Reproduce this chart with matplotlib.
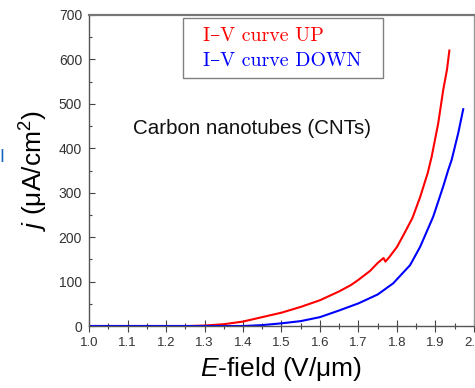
import matplotlib
matplotlib.use("Agg")
import matplotlib.pyplot as plt
from matplotlib.patches import Rectangle
from matplotlib.ticker import MultipleLocator

# Data
E_up = [1.00, 1.26, 1.30, 1.35, 1.40, 1.45, 1.50, 1.55, 1.60, 1.65, 1.68, 1.70,
        1.73, 1.75, 1.765, 1.770, 1.78, 1.80, 1.82, 1.84, 1.86, 1.88, 1.89,
        1.907, 1.920, 1.930, 1.936]
j_up = [0, 0, 1, 4, 10, 20, 30, 43, 58, 78, 92, 104,
        124, 142, 153, 145, 155, 178, 210, 243, 290, 345, 381,
        456, 531, 578, 620]

E_down = [1.00, 1.40, 1.45, 1.50, 1.55, 1.60, 1.65, 1.70, 1.75, 1.79, 1.834,
          1.86, 1.894, 1.92, 1.933, 1.942, 1.959, 1.972]
j_down = [0, 0, 2, 6, 11, 20, 35, 51, 71, 96, 137,
          178, 246, 314, 351, 374, 434, 488]

legend_labels = ["I–V curve UP", "I–V curve DOWN"]
annotation = "Carbon nanotubes (CNTs)"
x_ticks = [1.0, 1.1, 1.2, 1.3, 1.4, 1.5, 1.6, 1.7, 1.8, 1.9, 2.0]
y_ticks = [0, 100, 200, 300, 400, 500, 600, 700]

plt.rcParams['font.family'] = ['Liberation Sans', 'DejaVu Sans']
plt.rcParams['mathtext.fontset'] = 'custom'
plt.rcParams['mathtext.rm'] = 'Liberation Sans'
plt.rcParams['mathtext.it'] = 'Liberation Sans:italic'

fig = plt.figure(figsize=(4.75, 3.88), dpi=100)
ax = fig.add_axes([89/475, 1-326/388, 385/475, 311/388])

ax.plot(E_up, j_up, color='#ff0000', lw=1.5)
ax.plot(E_down, j_down, color='#0000ff', lw=1.5)

ax.set_xlim(1.0, 2.0)
ax.set_ylim(0, 700)
ax.set_xticks(x_ticks)
ax.set_xticklabels([f"{v:.1f}" for v in x_ticks])
ax.set_yticks(y_ticks)
ax.xaxis.set_minor_locator(MultipleLocator(0.05))
ax.yaxis.set_minor_locator(MultipleLocator(50))

ax.tick_params(axis='x', which='major', direction='inout', length=8, width=0.8,
               color='#444444', labelsize=9.5, labelcolor='#333333', pad=4)
ax.tick_params(axis='x', which='minor', direction='inout', length=4.5, width=0.8,
               color='#444444')
ax.tick_params(axis='y', which='major', direction='in', length=4.5, width=0.8,
               color='#444444', labelsize=10, labelcolor='#333333', pad=5)
ax.tick_params(axis='y', which='minor', direction='in', length=2.5, width=0.8,
               color='#444444')

for s in ['left', 'bottom']:
    ax.spines[s].set_color('#555555')
    ax.spines[s].set_linewidth(1.0)
ax.spines['top'].set_color('#777777')
ax.spines['top'].set_linewidth(1.6)
ax.spines['right'].set_color('#999999')
ax.spines['right'].set_linewidth(1.0)

ax.set_xlabel(r"$E$-field (V/μm)", fontsize=19, labelpad=4)
ax.set_ylabel(r"$j$ (μA/cm$^2$)", fontsize=19, labelpad=6)

# Legend-like box
ax.add_patch(Rectangle((0.2434, 0.796), 0.519, 0.193, transform=ax.transAxes,
                       facecolor='white', edgecolor='#808080', lw=1.0, zorder=3))
serif = ['cmr10', 'DejaVu Serif']
ax.text(0.297, 0.933, legend_labels[0], transform=ax.transAxes, color='#ff0000',
        fontsize=14.4, va='center', ha='left', family=serif, zorder=4)
ax.text(0.297, 0.853, legend_labels[1], transform=ax.transAxes, color='#0000ff',
        fontsize=14.4, va='center', ha='left', family=serif, zorder=4)

ax.text(133, 388 - 128, annotation, transform=None, fontsize=14.8, color='#111111',
        va='center', ha='left')

fig.text(-1/475, 1-157/388, 'I', color='#1565C0', fontsize=13, ha='left', va='center')

fig.savefig('out.png', dpi=100)
